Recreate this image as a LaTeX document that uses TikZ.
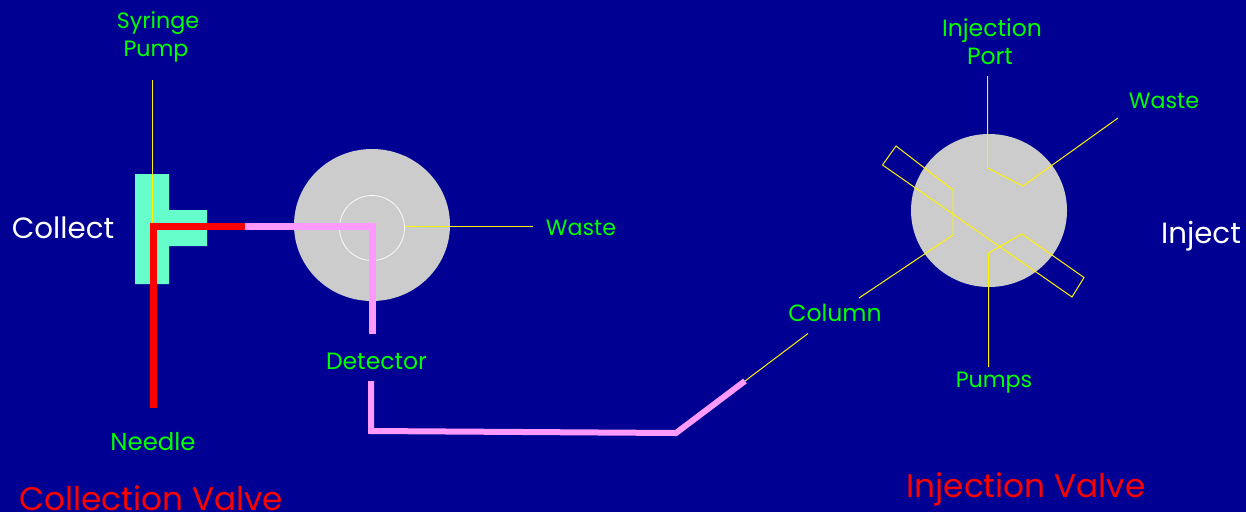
\documentclass[tikz,border=0pt]{standalone}
\usepackage{fontspec}
\setmainfont{Poppins}
\definecolor{bgblue}{RGB}{0,0,147}
\definecolor{valvegrey}{RGB}{204,204,204}
\definecolor{tealT}{RGB}{102,255,204}
\definecolor{tubepink}{RGB}{255,153,255}
\definecolor{lblgreen}{RGB}{0,255,0}
\tikzset{
  lbl/.style={text=lblgreen,font=\fontsize{23.5}{26}\selectfont,inner sep=0pt,anchor=base},
  lblsmall/.style={lbl,font=\fontsize{22.2}{26}\selectfont},
  lblbig/.style={lbl,font=\fontsize{24.4}{26}\selectfont},
  side/.style={text=white,font=\fontsize{29.3}{32}\selectfont,inner sep=0pt,anchor=base},
  title/.style={text=red,font=\fontsize{32.7}{36}\selectfont,inner sep=0pt,anchor=base},
  wire/.style={draw=yellow,line width=1pt,line join=miter},
  tube/.style={line width=7pt,line join=miter},
  disc/.style={fill=valvegrey,draw=none}
}
\begin{document}
\begin{tikzpicture}[x=1pt,y=-1pt]
\useasboundingbox[fill=bgblue] (0,0) rectangle (1246,512);
% collection valve
\fill[tealT] (135,174) -- (169,174) -- (169,210) -- (207,210) -- (207,246) -- (169,246) -- (169,284) -- (135,284) -- cycle;
\fill[disc] (372,225) ellipse [x radius=78,y radius=76];
\draw[white!90!valvegrey,line width=0.8pt] (372,228) circle [radius=32.5];
\node[lblsmall] (syr) at (158,28) {Syringe};
\node[lblsmall] (pump) at (156,56.5) {Pump};
\node[side] (coll) at (63,238.5) {Collect};
\node[lblsmall] (w1) at (581,235.5) {Waste};
\node[lbl] (det) at (376.5,369.5) {Detector};
\node[lblbig] (need) at (153,450.5) {Needle};
\node[title] (cv) at (151,510) {Collection Valve};
\coordinate (sTop) at (152.5,80);
\coordinate (sEnd) at (152.5,226);
\draw[wire] (sTop) -- (sEnd);
\coordinate (wA) at (405,226.4);
\coordinate (wB) at (533,226.4);
\draw[wire] (wA) -- (wB);
\coordinate (corner) at (153.5,226.5);
\coordinate (redEnd) at (153.5,408);
\coordinate (split) at (245,226.5);
\coordinate (bend) at (372.5,226.5);
\coordinate (pinkEnd) at (372.5,334);
\draw[tube,tubepink] (split) -- (bend) -- (pinkEnd);
\draw[tube,red] (redEnd) -- (corner) -- (split);
\coordinate (lowA) at (371,381);
\coordinate (lowB) at (371,431);
\coordinate (lowC) at (676,433);
\coordinate (lowD) at (745,381);
\draw[tube,tubepink,line width=6pt] (lowA) -- (lowB) -- (lowC) -- (lowD);
% injection valve
\fill[disc] (989,210.5) ellipse [x radius=78,y radius=76.5];
\node[lbl] (inj) at (992,36) {Injection};
\node[lbl] (port) at (990,64.5) {Port};
\node[lblsmall] (w2) at (1164,108.5) {Waste};
\node[lbl] (col) at (835,321.5) {Column};
\node[lblsmall] (pmp) at (994,387) {Pumps};
\node[side] (injs) at (1201,243.5) {Inject};
\node[title] (iv) at (1026,497) {Injection Valve};
\coordinate (pA) at (987.5,76);
\coordinate (pB) at (987.5,168);
\coordinate (pC) at (1023,186);
\coordinate (pD) at (1118,118);
\draw[wire] (pA) -- (pB) -- (pC) -- (pD);
\coordinate (cA) at (859,298);
\coordinate (cB) at (953,235);
\coordinate (cC) at (953,190);
\coordinate (cD) at (896,146);
\coordinate (cE) at (882.5,165);
\coordinate (cF) at (1072,297);
\coordinate (cG) at (1084,277.5);
\coordinate (cH) at (1022,234);
\coordinate (cI) at (988.5,253);
\coordinate (cJ) at (988.5,367);
\draw[wire] (cA) -- (cB) -- (cC) -- (cD) -- (cE) -- (cF) -- (cG) -- (cH) -- (cI) -- (cJ);
\coordinate (lA) at (808,333.5);
\draw[wire] (lA) -- (lowD);
\end{tikzpicture}
\end{document}
